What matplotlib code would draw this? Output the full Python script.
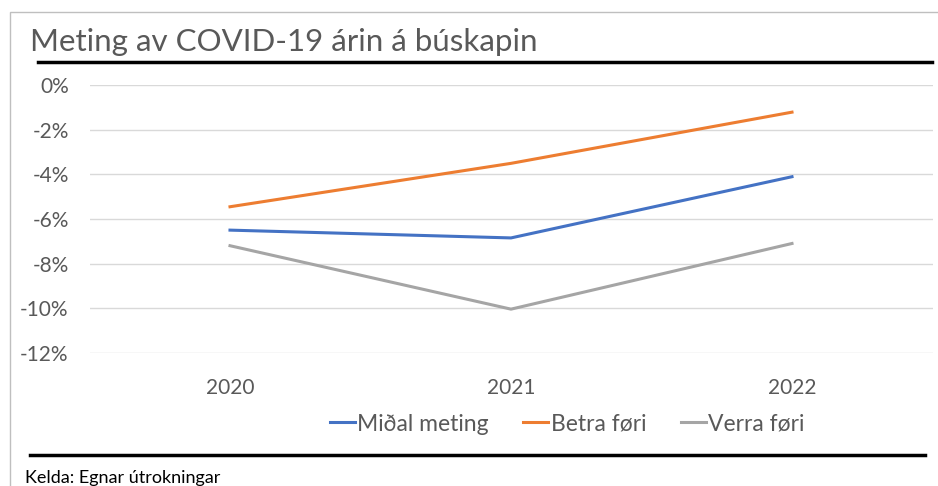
import matplotlib.pyplot as plt
from matplotlib.lines import Line2D
from matplotlib.patches import Rectangle

years = ["2020", "2021", "2022"]
midal_meting = [-6.5, -6.85, -4.1]
betra_fori = [-5.45, -3.5, -1.2]
verra_fori = [-7.2, -10.05, -7.1]
y_ticks = [0, -2, -4, -6, -8, -10, -12]

plt.rcParams['font.family'] = ['Lato', 'DejaVu Sans']
grey_text = '#595959'

fig = plt.figure(figsize=(9.38, 4.86), dpi=100)
W, H = 938, 486

# outer chart border
fig.patches.append(Rectangle((10 / W, -0.05), 1.0, (486 - 12) / H + 0.05,
                             transform=fig.transFigure, fill=False,
                             edgecolor='#bfbfbf', linewidth=1.0))

ax = fig.add_axes([89.5 / W, 1 - 353 / H, (932.5 - 89.5) / W, (353 - 85) / H])
x = range(len(years))
ax.plot(x, midal_meting, color='#4472c4', linewidth=2.2, label='Miðal meting')
ax.plot(x, betra_fori, color='#ed7d31', linewidth=2.2, label='Betra føri')
ax.plot(x, verra_fori, color='#a5a5a5', linewidth=2.2, label='Verra føri')

ax.set_xlim(-0.5, 2.5)
ax.set_ylim(-12.02, 0.02)
ax.set_yticks(y_ticks)
ax.set_yticklabels([f"{t}%" for t in y_ticks])
ax.set_xticks(list(x))
ax.set_xticklabels(years)
ax.grid(axis='y', color='#d9d9d9', linewidth=1)
ax.set_axisbelow(True)
for s in ax.spines.values():
    s.set_visible(False)
ax.tick_params(length=0, labelsize=15, colors=grey_text)
ax.tick_params(axis='y', pad=15)
ax.tick_params(axis='x', pad=18)

handles = [Line2D([], [], color=c, linewidth=2.2) for c in ['#4472c4', '#ed7d31', '#a5a5a5']]
fig.legend(handles, ['Miðal meting', 'Betra føri', 'Verra føri'],
           loc='center', bbox_to_anchor=(567 / W, 1 - 424 / H), ncol=3,
           frameon=False, fontsize=16.5, labelcolor=grey_text,
           handlelength=1.1, handletextpad=0.1, columnspacing=1.5)

fig.text(30 / W, 1 - 42 / H, "Meting av COVID-19 árin á búskapin",
         fontsize=22.5, color=grey_text, va='center', ha='left')
fig.add_artist(Line2D([38 / W, 932 / W], [1 - 62 / H] * 2, color='black', linewidth=2.5))
fig.add_artist(Line2D([30 / W, 925 / W], [1 - 455 / H] * 2, color='black', linewidth=2.5))
fig.text(25 / W, 1 - 478 / H, "Kelda: Egnar útrokningar",
         fontsize=13, color='black', va='center', ha='left')

fig.savefig("out.png", dpi=100)
